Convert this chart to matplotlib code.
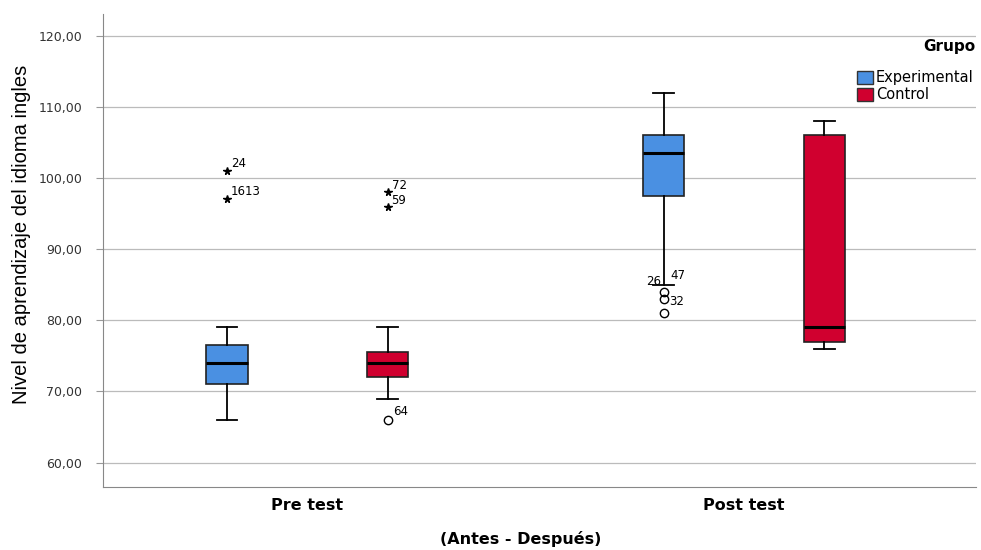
import matplotlib.pyplot as plt
from matplotlib.patches import Patch

plt.rcParams['font.family'] = ['DejaVu Sans']

# Datos
momentos = ['Pre test', 'Post test']
grupos = ['Experimental', 'Control']
colores = ['#4a90e2', '#d0002f']

# estadisticos: [pre, post] por grupo
q1 = {'Experimental': [71.0, 97.5], 'Control': [72.0, 77.0]}
mediana = {'Experimental': [74.0, 103.5], 'Control': [74.0, 79.0]}
q3 = {'Experimental': [76.5, 106.0], 'Control': [75.5, 106.0]}
bigote_inf = {'Experimental': [66.0, 85.0], 'Control': [69.0, 76.0]}
bigote_sup = {'Experimental': [79.0, 112.0], 'Control': [79.0, 108.0]}

# valores atipicos (circulos) y extremos (estrellas)
atipicos = {'Experimental': [[], [84.0, 83.0, 81.0]], 'Control': [[66.0], []]}
extremos = {'Experimental': [[101.0, 97.0], []], 'Control': [[98.0, 96.0], []]}

fig, ax = plt.subplots(figsize=(9.81, 5.5), dpi=100)
fig.subplots_adjust(left=0.105, right=0.995, top=0.975, bottom=0.115)

offset = 0.184
for gi, g in enumerate(grupos):
    for mi in range(len(momentos)):
        pos = mi + (offset if gi else -offset)
        st = [{'med': mediana[g][mi], 'q1': q1[g][mi], 'q3': q3[g][mi],
               'whislo': bigote_inf[g][mi], 'whishi': bigote_sup[g][mi], 'fliers': []}]
        ax.bxp(st, positions=[pos], widths=0.094, patch_artist=True,
               boxprops=dict(facecolor=colores[gi], edgecolor='#222222', linewidth=1.2),
               medianprops=dict(color='black', linewidth=2.2),
               whiskerprops=dict(color='black', linewidth=1.3),
               capprops=dict(color='black', linewidth=1.3), capwidths=0.048)
        for v in atipicos[g][mi]:
            ax.plot(pos, v, 'o', mfc='none', mec='black', ms=6, mew=1)
        for v in extremos[g][mi]:
            ax.plot(pos, v, '*', color='black', ms=5.5)

# etiquetas de casos
lab_kw = dict(fontsize=8.5, color='black')
ax.text(-0.184 + 0.009, 101.2, '24', va='bottom', **lab_kw)
ax.text(-0.184 + 0.009, 97.2, '1613', va='bottom', **lab_kw)
ax.text(0.184 + 0.009, 98.0, '72', va='bottom', **lab_kw)
ax.text(0.184 + 0.009, 97.7, '59', va='top', **lab_kw)
ax.text(0.184 + 0.012, 66.3, '64', va='bottom', **lab_kw)
ax.text(0.816 - 0.005, 85.4, '26', ha='right', va='center', **lab_kw)
ax.text(0.816 + 0.016, 86.3, '47', va='center', **lab_kw)
ax.text(0.816 + 0.014, 82.6, '32', va='center', **lab_kw)

ax.set_xlim(-0.468, 1.532)
ax.set_ylim(56.6, 123.1)
ax.set_yticks([60, 70, 80, 90, 100, 110, 120])
ax.set_yticklabels(['%d,00' % v for v in [60, 70, 80, 90, 100, 110, 120]], fontsize=9, color='#333333')
ax.set_xticks([0, 1])
ax.set_xticklabels(momentos, fontsize=11.5, fontweight='bold')
ax.tick_params(axis='x', length=0, pad=8)
ax.tick_params(axis='y', length=5, color='#999999', pad=10)
ax.yaxis.grid(True, color='#bbbbbb', linewidth=0.9)
ax.set_axisbelow(True)
for s in ['top', 'right']:
    ax.spines[s].set_visible(False)
for s in ['left', 'bottom']:
    ax.spines[s].set_color('#888888')

ax.set_ylabel('Nivel de aprendizaje del idioma ingles', fontsize=14.5,
              family='Liberation Sans')
ax.yaxis.set_label_coords(-0.083, 0.534)
ax.set_xlabel('(Antes - Después)', fontsize=11.5, fontweight='bold')
ax.xaxis.set_label_coords(0.478, -0.093)

handles = [Patch(facecolor=c, edgecolor='#333333', label=g) for g, c in zip(grupos, colores)]
leg = ax.legend(handles=handles, loc='upper right', bbox_to_anchor=(984 / 981, 1 - 60 / 550),
                bbox_transform=fig.transFigure,
                frameon=True, facecolor='white', edgecolor='none', framealpha=1,
                fontsize=10.5, handlelength=1.1, handleheight=1.0, handletextpad=0.2,
                labelspacing=0.15, borderpad=0.2)
fig.text(975 / 981, 1 - 47 / 550, 'Grupo', ha='right', va='center',
         fontsize=11, fontweight='bold')

fig.savefig('out.png')
